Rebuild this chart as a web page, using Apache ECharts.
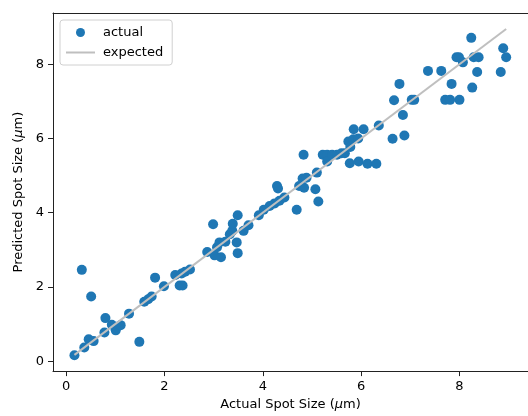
<!DOCTYPE html>
<html>
<head>
<meta charset="utf-8">
<script src="https://cdn.jsdelivr.net/npm/echarts@6/dist/echarts.min.js"></script>
<style>html,body{margin:0;padding:0;background:#fff}#c{width:528px;height:416px}</style>
</head>
<body>
<div id="c"></div>
<script>
const actualSize = [0.17,0.32,0.37,0.46,0.51,0.56,0.78,0.80,0.93,1.01,1.11,1.28,1.49,1.59,1.67,1.74,1.81,1.99,2.22,2.31,2.37,2.35,2.42,2.52,2.87,2.99,3.02,3.15,3.07,3.12,3.24,3.33,3.38,3.39,3.49,3.47,3.49,3.61,3.71,3.92,4.02,4.14,4.24,4.34,4.44,4.29,4.31,4.69,4.74,4.81,4.89,4.84,4.83,5.07,5.13,5.10,5.22,5.31,5.31,5.41,5.51,5.60,5.67,5.74,5.78,5.84,5.94,5.85,6.05,5.77,5.95,6.13,6.31,6.36,6.64,6.88,6.85,6.67,6.78,7.03,7.08,7.36,7.63,7.84,7.71,7.81,8.00,7.94,7.99,8.07,8.24,8.26,8.29,8.39,8.36,8.84,8.89,8.95];
const predictedSize = [0.16,2.46,0.37,0.59,1.74,0.54,0.77,1.16,0.98,0.83,0.97,1.28,0.52,1.60,1.67,1.74,2.25,2.02,2.32,2.04,2.04,2.36,2.41,2.47,2.94,3.69,2.85,2.80,3.07,3.20,3.22,3.42,3.51,3.70,3.93,3.20,2.91,3.51,3.66,3.93,4.08,4.18,4.25,4.32,4.41,4.72,4.65,4.08,4.72,4.92,4.94,4.67,5.56,4.63,4.30,5.08,5.56,5.56,5.38,5.56,5.56,5.60,5.60,5.92,5.77,5.98,6.00,6.25,6.25,5.33,5.38,5.32,5.32,6.35,5.99,6.08,6.63,7.03,7.47,7.04,7.04,7.82,7.82,7.47,7.04,7.04,7.04,8.19,8.19,8.05,8.71,7.37,8.19,8.19,7.79,7.79,8.43,8.19];
const expectedLine = [[0.17,0.17],[8.95,8.95]];
const xTicks = [0,2,4,6,8];
const yTicks = [0,2,4,6,8];

const font = 'DejaVu Sans';
const spine = '#222';
const chart = echarts.init(document.getElementById('c'), null, {renderer:'canvas'});
const axisCommon = {
  type:'value',
  nameLocation:'middle',
  splitLine:{show:false},
  axisLine:{show:true, onZero:false, lineStyle:{color:spine, width:1}},
  axisTick:{show:true, inside:false, length:5, lineStyle:{color:spine, width:1}},
  axisLabel:{color:'#000', fontFamily:font, fontSize:13, margin:9}
};
const nameRich = {
  a:{fontFamily:font, fontSize:13, color:'#000'},
  i:{fontFamily:font, fontSize:13, color:'#000', fontStyle:'italic'}
};
chart.setOption({
  animation:false,
  backgroundColor:'#fff',
  grid:{left:53, top:13, right:-8, bottom:43, show:false},
  legend:{
    left:60, top:20, orient:'vertical',
    padding:[6,9,6,5], itemGap:7, itemWidth:29, itemHeight:9,
    backgroundColor:'rgba(255,255,255,0.8)', borderColor:'#d0d0d0', borderWidth:1, borderRadius:3,
    textStyle:{fontFamily:font, fontSize:13, color:'#000', padding:[0,0,0,3]},
    data:[{name:'actual', icon:'circle'},{name:'expected', itemStyle:{opacity:0}}]
  },
  xAxis:[Object.assign({}, axisCommon, {
    min:-0.266, max:9.394, position:'bottom',
    name:'{a|Actual Spot Size (}{i|μ}{a|m)}', nameGap:26,
    nameTextStyle:{rich:nameRich},
    axisTick:Object.assign({}, axisCommon.axisTick, {customValues:xTicks}),
    axisLabel:Object.assign({}, axisCommon.axisLabel, {customValues:xTicks})
  }), {
    type:'value', position:'top', min:-0.266, max:9.394,
    axisLine:{show:true, onZero:false, lineStyle:{color:spine, width:1}},
    axisTick:{show:false}, axisLabel:{show:false}, splitLine:{show:false}
  }],
  yAxis:Object.assign({}, axisCommon, {
    min:-0.268, max:9.38,
    name:'{a|Predicted Spot Size (}{i|μ}{a|m)}', nameGap:23,
    nameTextStyle:{rich:nameRich},
    axisTick:Object.assign({}, axisCommon.axisTick, {customValues:yTicks}),
    axisLabel:Object.assign({}, axisCommon.axisLabel, {customValues:yTicks})
  }),
  series:[
    {
      name:'actual', type:'scatter', symbol:'circle', symbolSize:10,
      itemStyle:{color:'#1f77b4', opacity:1},
      data:actualSize.map((x,i)=>[x, predictedSize[i]]),
      z:2
    },
    {
      name:'expected', type:'line', symbol:'none', showSymbol:false,
      lineStyle:{color:'#bfbfbf', width:2},
      itemStyle:{color:'#bfbfbf'},
      data:expectedLine,
      z:3
    }
  ]
});
</script>
</body>
</html>
